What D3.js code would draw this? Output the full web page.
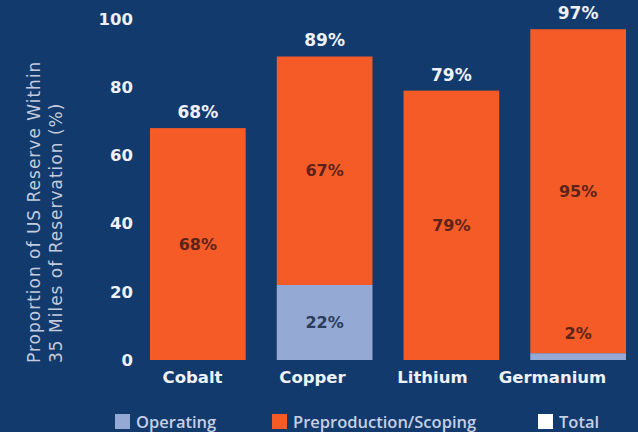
<!DOCTYPE html>
<html>
<head>
<meta charset="utf-8">
<script src="https://cdn.jsdelivr.net/npm/d3@7"></script>
<style>
  html, body { margin: 0; padding: 0; background: #133a6d; }
  svg { display: block; }
</style>
</head>
<body>
<svg id="chart" width="638" height="432"></svg>
<script>
// Share of US reserve within 35 miles of a reservation, by mineral
const categories = ["Cobalt", "Copper", "Lithium", "Germanium"];
const operating = [0, 22, 0, 2];
const preproduction = [68, 67, 79, 95];
const totals = [68, 89, 79, 97];
const yTicks = [0, 20, 40, 60, 80, 100];
const legendLabels = ["Operating", "Preproduction/Scoping", "Total"];

const colors = {
  bg: "#133a6d",
  operating: "#94aad4",
  preproduction: "#f55b27",
  total: "#ffffff",
  text: "#eef2f8",
  title: "#c3cbdc",
  onOrange: "#5c2418",
  onBlue: "#2b3b5c"
};

const svg = d3.select("#chart");
svg.append("rect").attr("width", 638).attr("height", 432).attr("fill", colors.bg);

const y = d3.scaleLinear().domain([0, 100]).range([360, 19]);
const x = d3.scaleBand().domain(categories).range([150, 626]).paddingInner(0.245).paddingOuter(0);
const xLabel = d3.scalePoint().domain(categories).range([192, 552]);

const boldFont = "'DejaVu Sans', sans-serif";

// Y axis: tick labels only
const yAxis = svg.append("g")
  .attr("transform", "translate(136,0)")
  .call(d3.axisLeft(y).tickValues(yTicks).tickSize(0).tickPadding(3));
yAxis.select(".domain").remove();
yAxis.selectAll("text")
  .attr("fill", colors.text)
  .attr("font-family", boldFont)
  .attr("font-weight", "bold")
  .attr("font-size", 16.5);

// Axis title, two lines, rotated
const title = svg.append("text")
  .attr("transform", "translate(0,363) rotate(-90)")
  .attr("fill", colors.title)
  .attr("font-family", "'DejaVu Sans', sans-serif")
  .attr("font-size", 17)
  .attr("letter-spacing", 1.0)
  .attr("text-anchor", "start");
title.append("tspan").attr("x", 0).attr("y", 39.5).text("Proportion of US Reserve Within");
title.append("tspan").attr("x", 0).attr("y", 61.5).text("35 Miles of Reservation (%)");

// Stacked segments
const rows = categories.map((c, i) => ({
  cat: c,
  segs: [
    { key: "operating", v0: 0, v1: operating[i], v: operating[i] },
    { key: "preproduction", v0: operating[i], v1: operating[i] + preproduction[i], v: preproduction[i] }
  ],
  total: totals[i]
}));

const bars = svg.append("g");
rows.forEach(r => {
  r.segs.filter(s => s.v > 0).forEach(s => {
    bars.append("rect")
      .attr("x", x(r.cat))
      .attr("width", x.bandwidth())
      .attr("y", y(s.v1))
      .attr("height", y(s.v0) - y(s.v1))
      .attr("fill", colors[s.key]);
  });
});

// Segment value labels
const inner = svg.append("g")
  .attr("font-family", boldFont)
  .attr("font-weight", "bold")
  .attr("font-size", 16)
  .attr("text-anchor", "middle");
rows.forEach(r => {
  r.segs.filter(s => s.v > 0).forEach(s => {
    const h = y(s.v0) - y(s.v1);
    const cy = h > 24 ? (y(s.v0) + y(s.v1)) / 2 : y(s.v1) - 20;
    inner.append("text")
      .attr("x", x(r.cat) + x.bandwidth() / 2)
      .attr("y", cy)
      .attr("dy", "0.35em")
      .attr("fill", s.key === "operating" && h > 24 ? colors.onBlue : colors.onOrange)
      .text(s.v + "%");
  });
});

// Total labels above bars
svg.append("g")
  .attr("font-family", boldFont)
  .attr("font-weight", "bold")
  .attr("font-size", 17)
  .attr("text-anchor", "middle")
  .attr("fill", colors.text)
  .selectAll("text")
  .data(rows)
  .join("text")
  .attr("x", d => x(d.cat) + x.bandwidth() / 2)
  .attr("y", d => y(d.total) - 16)
  .attr("dy", "0.35em")
  .text(d => d.total + "%");

// Category labels
const xAxis = svg.append("g")
  .attr("transform", "translate(0,371)")
  .call(d3.axisBottom(xLabel).tickSize(0).tickPadding(0));
xAxis.select(".domain").remove();
xAxis.selectAll("text")
  .attr("fill", colors.text)
  .attr("font-family", boldFont)
  .attr("font-weight", "bold")
  .attr("font-size", 16.5);

// Legend
const legendX = [115, 272, 538];
const legendKeys = ["operating", "preproduction", "total"];
const legend = svg.append("g");
legendLabels.forEach((lab, i) => {
  const g = legend.append("g").attr("transform", `translate(${legendX[i]},414)`);
  g.append("rect").attr("width", 15).attr("height", 15).attr("fill", colors[legendKeys[i]]);
  g.append("text")
    .attr("x", 21)
    .attr("y", 8)
    .attr("dy", "0.35em")
    .attr("fill", "#c6d0e4")
    .attr("font-family", "'Open Sans', sans-serif")
    .attr("font-weight", 600)
    .attr("font-size", 16.5)
    .text(lab);
});
</script>
</body>
</html>
